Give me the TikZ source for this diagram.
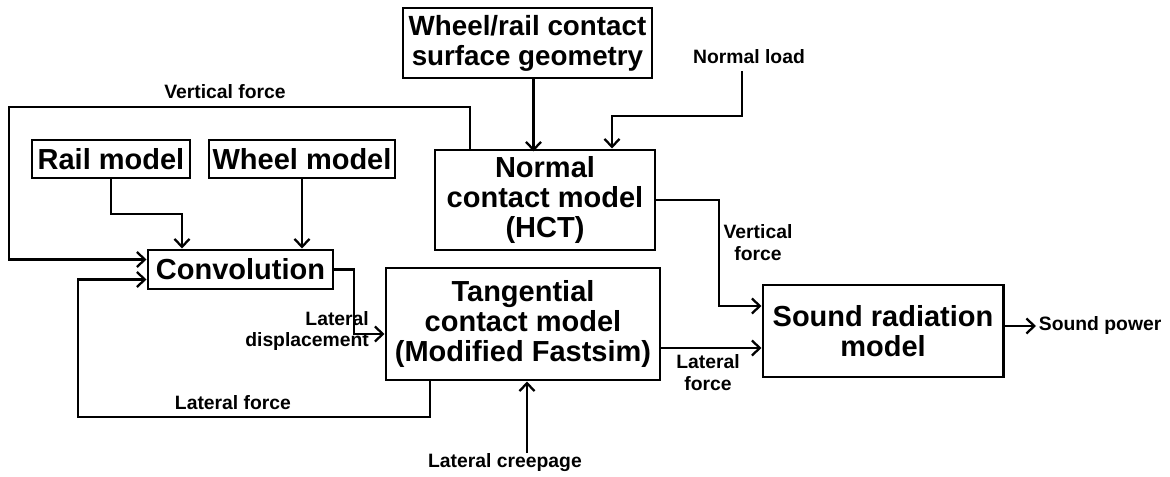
\documentclass[tikz,border=0pt]{standalone}
\usepackage{fontspec}
\setmainfont{Liberation Sans}
\usetikzlibrary{arrows.meta,positioning,calc}

\begin{document}
\begin{tikzpicture}[>={Straight Barb[length=4.5pt,width=8.5pt]},line width=1.3pt,
  every node/.style={align=center,font=\bfseries\fontsize{11}{12.5}\selectfont},
  block/.style={draw,line width=1.7pt,inner sep=0pt,font=\bfseries\fontsize{16.5}{17}\selectfont}]
  \useasboundingbox (0,0) rectangle (23.4,9.52);
  \node[block,minimum width=4.98cm,minimum height=1.4cm,font=\bfseries\fontsize{15.8}{17}\selectfont] (geom) at (10.55,8.66) {Wheel/rail contact\\ surface geometry};
  \node[block,minimum width=4.4cm,minimum height=2cm] (normal) at (10.9,5.52) {Normal\\ contact model\\ (HCT)};
  \node[block,minimum width=3.16cm,minimum height=0.76cm] (rail) at (2.22,6.34) {Rail model};
  \node[block,minimum width=3.72cm,minimum height=0.76cm] (wheel) at (6.04,6.34) {Wheel model};
  \node[block,minimum width=3.7cm,minimum height=0.78cm] (conv) at (4.81,4.13) {Convolution};
  \node[block,minimum width=5.48cm,minimum height=2.24cm] (tang) at (10.46,3.04) {Tangential\\ contact model\\ (Modified Fastsim)};
  \node[block,minimum width=4.8cm,minimum height=1.84cm] (sound) at (17.66,2.9) {Sound radiation\\ model};

  \node (load) at (14.98,8.38) {Normal load};
  \node (vf1) at (4.5,7.68) {Vertical force};
  \node[anchor=east,align=right,inner sep=0pt] (disp) at (7.4,2.9) {Lateral\\ displacement};
  \node (lf1) at (4.66,1.46) {Lateral force};
  \node (creep) at (10.1,0.26) {Lateral creepage};
  \node (lf2) at (14.16,2.06) {Lateral\\ force};
  \node (vf2) at (15.16,4.66) {Vertical\\ force};
  \node[anchor=west,inner sep=1pt] (power) at (20.72,3.0) {Sound power};

  \coordinate (nl) at (12.24,7.2);
  \coordinate (vtop) at (0.18,7.38);
  \coordinate (rc) at (3.64,5.24);
  \coordinate (cd) at (7.08,4.13);
  \coordinate (lf) at (1.56,1.18);
  \coordinate (cr) at (10.54,0.46);
  \coordinate (ls) at (0,2.56);
  \coordinate (vs) at (14.38,3.4);

  \draw[->] ([xshift=0.12cm]geom.south) -- ++(0,-1.44);
  \draw[->] ([xshift=-0.14cm]load.south) |- (nl) -- (nl |- normal.north);
  \draw[->] ([xshift=-1.5cm]normal.north) |- (vtop) |- ([yshift=0.2cm]conv.west);
  \draw[->] (rail) |- (rc) -- (rc |- conv.north);
  \draw[->] (wheel.south) -- (wheel.south |- conv.north);
  \draw[->] (conv.east) -- (cd) |- ([yshift=-0.2cm]tang.west);
  \draw[->] ([xshift=-1.86cm]tang.south) |- (lf) |- ([yshift=-0.2cm]conv.west);
  \draw[->] (cr) -- (cr |- tang.south);
  \draw[->] (tang.east |- ls) -- (sound.west |- ls);
  \draw[->] (normal.east) -| (vs) -- (vs -| sound.west);
  \draw[->] (sound.east |- power.west) -- (power.west);
\end{tikzpicture}
\end{document}
